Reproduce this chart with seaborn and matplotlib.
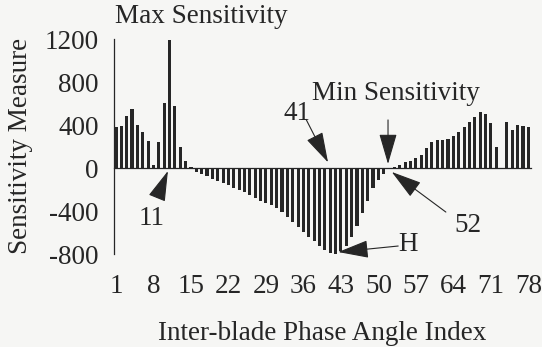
import numpy as np
import matplotlib
matplotlib.use("Agg")
import matplotlib.pyplot as plt
import seaborn as sns

# --- data ---
phase_index = np.arange(1, 79)
sensitivity = [
    380, 390, 485, 550, 400, 335, 255, 30, 245, 610,          # 1-10
    1190, 580, 200, 65, 10, -35, -55, -75, -95, -115,         # 11-20
    -135, -155, -180, -200, -225, -250, -275, -300, -320, -345,  # 21-30
    -370, -410, -450, -500, -545, -590, -635, -680, -725, -760,  # 31-40
    -790, -800, -770, -720, -640, -540, -420, -300, -180, -110,  # 41-50
    -55, -10, 15, 30, 55, 70, 95, 120, 190, 245,              # 51-60
    260, 265, 275, 305, 335, 385, 430, 480, 520, 505,         # 61-70
    420, 200, 0, 430, 360, 400, 395, 380,                     # 71-78
]
x_tick_labels = [1, 8, 15, 22, 29, 36, 43, 50, 57, 64, 71, 78]
y_ticks = [-800, -400, 0, 400, 800, 1200]

ink = "#262626"
bg = "#f6f6f4"
fs = 19.5

sns.set_style("white")
plt.rcParams["font.family"] = ["Liberation Serif", "DejaVu Serif"]
plt.rcParams["text.color"] = ink
plt.rcParams["axes.unicode_minus"] = False

fig = plt.figure(figsize=(5.42, 3.47), dpi=100, facecolor=bg)
ax = fig.add_axes([114 / 542, 1 - 254.3 / 347, 417 / 542, 215 / 347])
ax.set_facecolor(bg)

sns.barplot(x=phase_index, y=sensitivity, native_scale=True, color=ink,
            saturation=1, width=0.58, linewidth=0, errorbar=None, ax=ax)

ax.set_xlim(0.63, 78.5)
ax.set_ylim(-800, 1200)

# spines: y axis on the left, x axis running through zero
for side in ["top", "right"]:
    ax.spines[side].set_visible(False)
ax.spines["bottom"].set_position(("data", 0))
for side in ["left", "bottom"]:
    ax.spines[side].set_color(ink)
    ax.spines[side].set_linewidth(0.9)

ax.set_xticks(phase_index)
ax.tick_params(axis="x", direction="inout", length=5, width=0.7, color=ink,
               labelbottom=False)
ax.set_yticks(y_ticks)
ax.tick_params(axis="y", direction="inout", length=6, width=0.8, color=ink,
               labelsize=fs, pad=8, labelcolor=ink)
ax.set_xlabel("")
ax.set_ylabel("Sensitivity Measure", fontsize=fs, color=ink)
ax.yaxis.set_label_coords(-0.195, 0.505)

# index labels sit below the plot
sec = ax.secondary_xaxis("bottom")
sec.set_xticks(x_tick_labels, labels=[str(v) for v in x_tick_labels])
sec.spines["bottom"].set_visible(False)
sec.tick_params(length=0, pad=14, labelsize=fs, labelcolor=ink)
sec.set_xlabel("Inter-blade Phase Angle Index", fontsize=fs, color=ink, labelpad=16)

# annotations
arrow = dict(arrowstyle="-|>,head_length=1.2,head_width=0.35", mutation_scale=16,
             color=ink, lw=0.8, shrinkA=0, shrinkB=0)
ax.text(0.9, 1410, "Max Sensitivity", fontsize=fs, ha="left", va="center", clip_on=False)
ax.text(53.3, 700, "Min Sensitivity", fontsize=fs, ha="center", va="center")
ax.annotate("", xy=(51.8, 40), xytext=(51.8, 450), arrowprops=arrow)
ax.text(34.8, 514, "41", fontsize=fs, ha="center", va="center")
ax.annotate("", xy=(40.6, 55), xytext=(36.5, 455), arrowprops=arrow)
ax.text(7.7, -463, "11", fontsize=fs, ha="center", va="center")
ax.annotate("", xy=(10.7, -25), xytext=(8.7, -270), arrowprops=arrow)
ax.text(66.7, -528, "52", fontsize=fs, ha="center", va="center")
ax.annotate("", xy=(52.5, -34), xytext=(62.6, -407), arrowprops=arrow)
ax.text(55.6, -705, "H", fontsize=fs, ha="center", va="center")
ax.annotate("", xy=(42.5, -779), xytext=(53.7, -723), arrowprops=arrow)

fig.savefig("out.png", dpi=100, facecolor=bg)
